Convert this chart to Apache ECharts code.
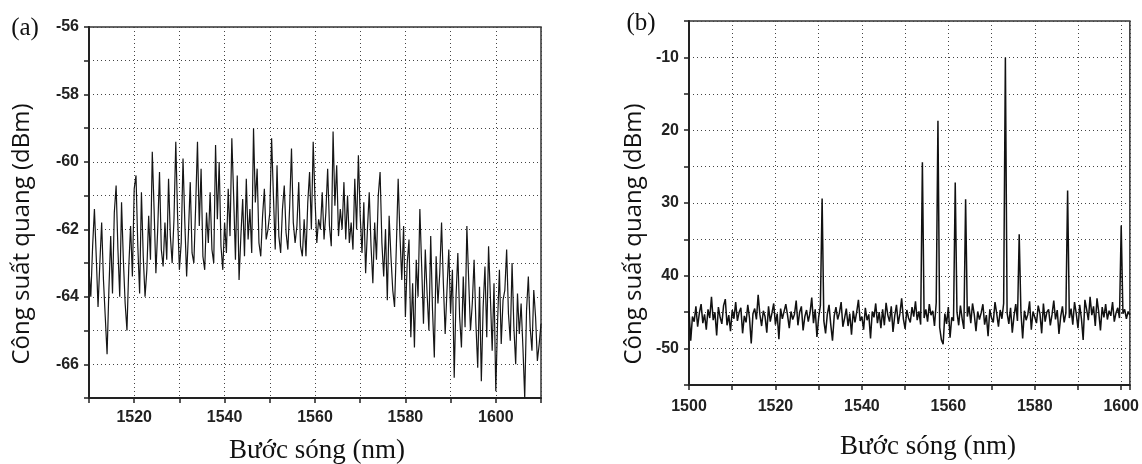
<!DOCTYPE html>
<html>
<head>
<meta charset="utf-8">
<script src="https://cdn.jsdelivr.net/npm/echarts@6/dist/echarts.min.js"></script>
<style>
html,body{margin:0;padding:0;background:#fff;}
#chart{width:1142px;height:464px;}
</style>
</head>
<body>
<div id="chart"></div>
<script>
// ---------- DATA ----------
// Panel (a): wavelength grid start/step (nm) and measured optical power (dBm)
const startA = 1510;
const stepA = 0.4;
const powerA = [
  -63.2, -64.0, -62.5, -61.4, -62.8, -64.3, -63.0, -61.8, -63.5, -64.6,
  -65.7, -63.8, -62.2, -63.9, -61.5, -60.7, -62.6, -64.0, -61.2, -62.9,
  -64.2, -65.0, -63.1, -61.9, -63.4, -60.8, -60.4, -62.5, -63.9, -60.9,
  -62.8, -64.0, -63.2, -61.6, -62.9, -59.7, -61.4, -63.3, -62.0, -60.3,
  -62.6, -63.1, -61.8, -62.9, -60.5, -62.2, -63.0, -61.7, -59.4, -61.6,
  -63.2, -62.4, -59.9, -61.8, -63.4, -62.1, -60.6, -62.7, -63.0, -61.3,
  -59.4, -61.9, -60.2, -62.8, -63.2, -61.5, -62.4, -60.9, -62.6, -63.0,
  -59.5, -61.7, -60.0, -62.5, -63.2, -61.8, -62.7, -60.8, -62.2, -59.3,
  -61.0, -62.9, -60.4, -63.5, -62.2, -61.1, -62.8, -60.5, -62.3, -61.4,
  -62.7, -59.0, -61.2, -60.2, -62.4, -62.8, -61.6, -60.8, -62.3, -62.0,
  -61.5, -59.3, -61.0, -62.6, -60.1, -62.2, -62.7, -61.4, -60.7, -62.1,
  -62.6, -61.3, -59.6, -61.8, -62.4, -61.9, -60.6, -62.5, -62.8, -61.7,
  -62.8, -61.2, -60.3, -62.0, -59.4, -61.1, -62.4, -61.7, -62.0, -60.9,
  -62.3, -61.5, -60.2, -61.9, -62.5, -59.1, -61.3, -60.1, -62.2, -61.4,
  -62.0, -60.6, -62.3, -61.0, -62.4, -61.8, -62.6, -60.5, -62.0, -59.8,
  -61.6, -62.7, -61.2, -63.3, -62.0, -60.9, -62.5, -63.6, -61.8, -62.9,
  -61.0, -60.3, -62.4, -63.4, -62.0, -64.1, -61.6, -62.8, -63.8, -64.3,
  -62.5, -60.5, -62.2, -63.5, -61.9, -64.6, -63.0, -62.3, -65.2, -63.6,
  -65.5, -62.9, -64.0, -61.4, -63.1, -64.8, -62.6, -63.9, -65.0, -62.2,
  -64.4, -65.8, -62.8, -64.2, -63.3, -61.8, -63.6, -65.1, -63.8, -62.6,
  -64.5, -63.2, -66.4, -64.0, -62.7, -64.6, -65.5, -63.4, -64.9, -61.9,
  -63.5, -65.0, -64.2, -62.9, -64.8, -66.1, -63.7, -66.5, -64.3, -63.1,
  -65.2, -62.5, -64.0, -65.6, -63.6, -66.8, -64.7, -63.2, -65.4, -64.1,
  -63.8, -62.6, -64.5, -65.3, -63.0, -64.9, -66.0, -63.9, -65.1, -64.2,
  -65.5, -67.0, -64.4, -63.4, -64.9, -65.6, -63.8, -64.6, -65.9, -65.4,
  -64.8
];

// Panel (b): wavelength grid start/step (nm) and measured optical power (dBm)
const startB = 1500;
const stepB = 0.4;
const powerB = [
  -44.8, -48.9, -45.6, -46.3, -44.2, -47.0, -45.1, -43.9, -46.5, -45.3,
  -47.4, -44.6, -45.8, -42.9, -46.1, -45.0, -48.2, -44.3, -45.7, -46.6,
  -44.1, -43.2, -46.8, -45.4, -47.6, -44.7, -45.9, -43.6, -46.2, -45.0,
  -44.4, -47.9, -45.5, -46.4, -44.0, -45.8, -49.3, -45.2, -44.5, -46.0,
  -42.6, -45.3, -46.9, -44.8, -45.6, -47.8, -44.2, -46.3, -45.1, -43.8,
  -46.7, -45.2, -48.7, -44.5, -45.9, -46.1, -43.9, -45.4, -47.2, -44.9,
  -46.0, -45.3, -43.4, -46.8, -45.0, -44.2, -47.5, -45.6, -44.7, -46.3,
  -45.1, -43.0, -46.5, -44.6, -48.4, -45.7, -44.1, -29.4, -46.2, -47.9,
  -45.3, -44.0, -46.7, -48.9, -45.5, -44.3, -46.0, -45.1, -43.6, -47.0,
  -45.8, -44.5, -46.9, -45.2, -48.1, -44.8, -46.4, -45.0, -43.3, -46.2,
  -45.6, -47.4, -44.4, -46.1, -45.3, -48.6, -44.9, -45.7, -43.8, -46.5,
  -45.0, -47.2, -44.6, -46.8, -43.7, -45.4, -46.3, -44.2, -47.7, -45.5,
  -44.0, -46.6, -45.2, -43.1, -45.9, -47.3, -44.7, -45.8, -46.4, -44.3,
  -45.6, -43.5, -46.1, -44.9, -46.7, -24.4, -45.8, -44.6, -46.3, -43.9,
  -45.4, -44.8, -46.9, -43.7, -18.7, -47.1, -48.8, -49.4, -45.2, -46.6,
  -44.3, -48.5, -45.7, -46.2, -27.2, -45.0, -46.8, -44.1, -45.9, -47.3,
  -29.5, -45.6, -44.2, -46.5, -43.8, -45.3, -47.6, -44.9, -46.0, -45.1,
  -43.9, -46.7, -45.4, -48.3, -44.6, -45.8, -46.4, -43.6, -45.2, -47.0,
  -44.7, -45.9, -43.8, -10.0, -45.1, -46.6, -44.4, -47.8, -45.5, -43.9,
  -46.2, -34.3, -45.0, -48.6, -44.8, -46.1, -45.3, -43.5, -47.4, -44.9,
  -45.7, -46.5, -44.1, -45.2, -47.9, -43.8, -46.3, -45.0, -44.6, -46.8,
  -45.3, -43.4, -46.0, -44.7, -48.0, -45.6, -44.2, -46.4, -45.1, -28.3,
  -45.8, -44.5, -46.7, -43.6, -45.2, -47.2, -44.0, -45.9, -48.8, -43.3,
  -44.6, -46.1, -42.9, -45.4, -44.2, -46.9, -43.1, -45.0, -47.5, -44.3,
  -45.7, -43.9, -46.0, -44.8, -45.5, -43.6, -46.3, -45.1, -44.4, -45.8,
  -33.1, -45.2, -44.6, -45.9, -44.9, -45.4
];

// Tick labels exactly as printed in panel (b)
const yTickValuesB = [-10, -20, -30, -40, -50];
const yTickTextB = ['-10', '20', '30', '40', '-50'];

// Text
const panelLabels = ['(a)', '(b)'];
const yTitle = 'Công suất quang (dBm)';
const xTitle = 'Bước sóng (nm)';

// ---------- BUILD ----------
const seriesA = powerA.map((v, i) => [startA + i * stepA, v]);
const seriesB = powerB.map((v, i) => [startB + i * stepB, v]);

const tickFont = {fontFamily: 'Liberation Sans, Arial, sans-serif', fontWeight: 'bold', fontSize: 16, color: '#222'};
const splitStyle = {show: true, lineStyle: {color: '#444', width: 1, type: [1, 3]}};
const axisLineStyle = {show: true, onZero: false, lineStyle: {color: '#222', width: 2}};
const tickStyle = {show: true, inside: false, length: 5, lineStyle: {color: '#222', width: 1.5}};

const chart = echarts.init(document.getElementById('chart'), null, {renderer: 'canvas'});
chart.setOption({
  animation: false,
  backgroundColor: '#fff',
  grid: [
    {left: 89, top: 27, width: 452, height: 371, show: true, borderColor: '#333', borderWidth: 1.5, containLabel: false},
    {left: 689, top: 21, width: 443, height: 364, show: true, borderColor: '#333', borderWidth: 1.5, containLabel: false}
  ],
  xAxis: [
    {
      type: 'value', gridIndex: 0, min: 1510, max: 1610, interval: 10,
      axisLine: axisLineStyle, axisTick: tickStyle,
      axisLabel: Object.assign({margin: 12, formatter: v => (v % 20 === 0 ? String(v) : '')}, tickFont),
      splitLine: splitStyle
    },
    {
      type: 'value', gridIndex: 1, min: 1500, max: 1602, interval: 10,
      axisLine: axisLineStyle, axisTick: tickStyle,
      axisLabel: Object.assign({margin: 14, showMaxLabel: true, formatter: v => (Math.abs(v % 20) < 1e-6 ? String(v) : '')}, tickFont),
      splitLine: splitStyle
    }
  ],
  yAxis: [
    {
      type: 'value', gridIndex: 0, min: -67, max: -56, interval: 1,
      axisLine: axisLineStyle, axisTick: tickStyle,
      axisLabel: Object.assign({margin: 10, formatter: v => (Math.abs(v % 2) < 1e-6 ? String(v) : '')}, tickFont),
      splitLine: splitStyle
    },
    {
      type: 'value', gridIndex: 1, min: -55, max: -5, interval: 5,
      axisLine: axisLineStyle, axisTick: tickStyle,
      axisLabel: Object.assign({margin: 10, formatter: v => {
        const k = yTickValuesB.indexOf(v);
        return k >= 0 ? yTickTextB[k] : '';
      }}, tickFont),
      splitLine: splitStyle
    }
  ],
  series: [
    {type: 'line', xAxisIndex: 0, yAxisIndex: 0, data: seriesA, showSymbol: false, silent: true,
     lineStyle: {color: '#161616', width: 1.2}},
    {type: 'line', xAxisIndex: 1, yAxisIndex: 1, data: seriesB, showSymbol: false, silent: true,
     lineStyle: {color: '#111', width: 1.5}}
  ],
  graphic: [
    {type: 'text', x: 25, y: 28, style: {text: panelLabels[0], font: '25px "Liberation Serif", "Times New Roman", serif', fill: '#111', textAlign: 'center', textVerticalAlign: 'middle'}},
    {type: 'text', x: 641, y: 23, style: {text: panelLabels[1], font: '25px "Liberation Serif", "Times New Roman", serif', fill: '#111', textAlign: 'center', textVerticalAlign: 'middle'}},
    {type: 'text', x: 22, y: 234, rotation: Math.PI / 2, style: {text: yTitle, font: '24px "Open Sans", sans-serif', fill: '#111', textAlign: 'center', textVerticalAlign: 'middle'}},
    {type: 'text', x: 634, y: 234, rotation: Math.PI / 2, style: {text: yTitle, font: '24px "Open Sans", sans-serif', fill: '#111', textAlign: 'center', textVerticalAlign: 'middle'}},
    {type: 'text', x: 317, y: 451, style: {text: xTitle, font: '27px "Liberation Serif", "Times New Roman", serif', fill: '#111', textAlign: 'center', textVerticalAlign: 'middle'}},
    {type: 'text', x: 928, y: 447, style: {text: xTitle, font: '27px "Liberation Serif", "Times New Roman", serif', fill: '#111', textAlign: 'center', textVerticalAlign: 'middle'}}
  ]
});
</script>
</body>
</html>
